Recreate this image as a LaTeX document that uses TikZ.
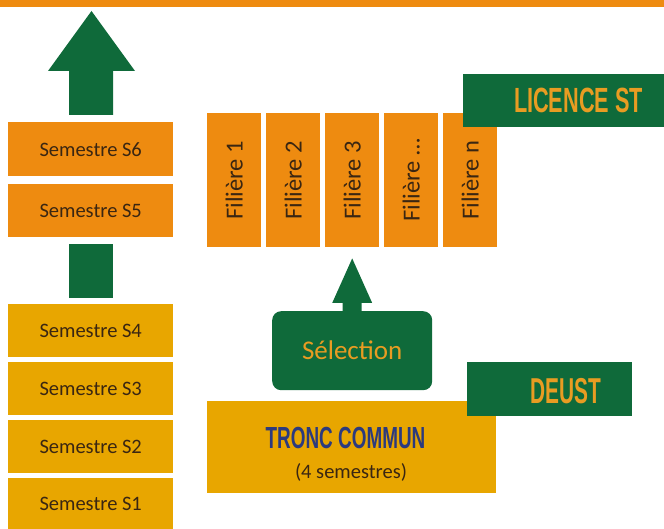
\documentclass[tikz,border=0pt]{standalone}
\usepackage{graphicx}
\usepackage{fontspec}
\setmainfont{Carlito}
\newfontfamily\headfont{Liberation Sans}
\usetikzlibrary{calc}
\definecolor{orng}{HTML}{EE8B10}
\definecolor{gold}{HTML}{E8A600}
\definecolor{dgreen}{HTML}{0F6A3A}
\definecolor{labelor}{HTML}{E89C22}
\definecolor{txtbrown}{HTML}{3A2612}
\definecolor{navy}{HTML}{2C3A7E}
\tikzset{
  box/.style={rectangle, inner sep=0pt, anchor=north west},
  sem/.style={box, fill=#1, minimum width=165pt, text=txtbrown,
    font=\fontsize{20.5}{24}\selectfont},
  fil/.style={box, fill=orng, minimum width=54pt, minimum height=134pt,
    text=txtbrown, font=\fontsize{24.5}{28}\selectfont},
  greenbox/.style={box, fill=dgreen},
  headtxt/.style={anchor=base, inner sep=0pt, text=labelor},
  greenarrow/.style={fill=dgreen}
}
\newcommand{\headlabel}[3]{{\headfont\bfseries\fontsize{#1}{#1}\selectfont\scalebox{#2}[1]{#3}}}
\begin{document}
\begin{tikzpicture}[x=1pt,y=-1pt]
\useasboundingbox (0,0) rectangle (664,529);
% top bar
\fill[orng] (0,0) rectangle (664,7);
% semesters
\node[sem=orng, minimum height=54pt] (s6) at (8,122) {Semestre S6};
\node[sem=orng, minimum height=53pt] (s5) at (8,184) {Semestre S5};
\node[greenbox, minimum width=44pt, minimum height=54pt] (link) at (69,244) {};
\node[sem=gold, minimum height=53pt] (s4) at (8,304) {Semestre S4};
\node[sem=gold, minimum height=53pt] (s3) at (8,362) {Semestre S3};
\node[sem=gold, minimum height=53pt] (s2) at (8,420) {Semestre S2};
\node[sem=gold, minimum height=51pt] (s1) at (8,478) {Semestre S1};
% top arrow
\fill[greenarrow] (69,115) -- (69,71) -- (48,71) -- (91.5,11) -- (135,71) -- (113,71) -- (113,115) -- cycle;
% filieres
\node[fil] (f1) at (207,113) {\rotatebox{90}{Filière 1}};
\node[fil] (f2) at (266,113) {\rotatebox{90}{Filière 2}};
\node[fil] (f3) at (325,113) {\rotatebox{90}{Filière 3}};
\node[fil] (f4) at (384,113) {\rotatebox{90}{Filière …}};
\node[fil] (f5) at (443,113) {\rotatebox{90}{Filière n}};
% licence
\node[greenbox, minimum width=201pt, minimum height=53pt] (lic) at (463,74) {};
\node[headtxt] (lictxt) at (578.5,113) {\headlabel{35}{0.62}{LICENCE ST}};
% selection
\node[box, fill=dgreen, rounded corners=9pt, minimum width=160pt, minimum height=79pt,
  text=labelor, font=\fontsize{27}{30}\selectfont] (sel) at (272,311) {Sélection};
\fill[greenarrow] ($(sel.north)+(-9.5,2)$) -- ($(sel.north)+(-9.5,-8)$) -- ($(sel.north)+(-20,-8)$)
  -- ($(f3.south)+(0,11)$) -- ($(sel.north)+(20,-8)$) -- ($(sel.north)+(9.5,-8)$) -- ($(sel.north)+(9.5,2)$) -- cycle;
% tronc commun
\node[box, fill=gold, minimum width=289pt, minimum height=92pt] (tc) at (207,401) {};
\node[anchor=base, inner sep=0pt, text=navy] (tctitle) at (345.5,448) {\headlabel{30.5}{0.62}{TRONC COMMUN}};
\node[anchor=base, inner sep=0pt, text=txtbrown, font=\fontsize{20.5}{24}\selectfont] (tcsub) at (351,478) {(4 semestres)};
% deust
\node[greenbox, minimum width=165pt, minimum height=54pt] (deust) at (467,362) {};
\node[headtxt] (deusttxt) at (565.5,403) {\headlabel{36}{0.58}{DEUST}};
\end{tikzpicture}
\end{document}
